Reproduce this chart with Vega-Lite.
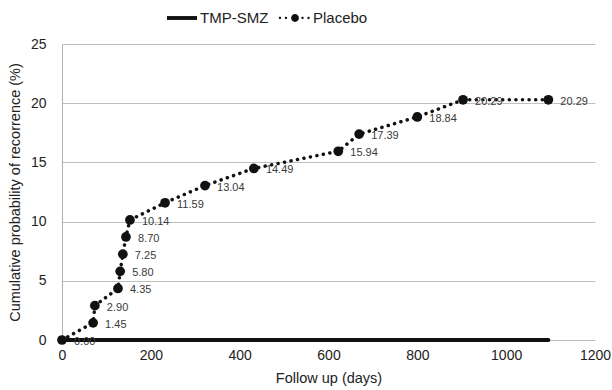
{
  "$schema": "https://vega.github.io/schema/vega-lite/v6.json",
  "width": 533,
  "height": 296,
  "autosize": {"type": "none"},
  "padding": {"left": 62, "top": 44, "right": 17, "bottom": 50},
  "background": "white",
  "config": {
    "font": "Liberation Sans",
    "view": {"stroke": null},
    "axis": {"labelFont": "Liberation Sans", "titleFont": "Liberation Sans", "labelColor": "#222", "titleColor": "#222", "titleFontWeight": "normal", "labelFontSize": 14, "titleFontSize": 14.5, "ticks": false, "labelFlush": false, "domainColor": "#b0b0b0", "gridColor": "#c0c0c0"}
  },
  "data": {
    "values": [
      {"series": "TMP-SMZ", "days": 0, "value": 0, "label": ""},
      {"series": "TMP-SMZ", "days": 1095, "value": 0, "label": ""},
      {"series": "Placebo", "days": 0, "value": 0, "label": "0.00"},
      {"series": "Placebo", "days": 70, "value": 1.45, "label": "1.45"},
      {"series": "Placebo", "days": 74, "value": 2.90, "label": "2.90"},
      {"series": "Placebo", "days": 126, "value": 4.35, "label": "4.35"},
      {"series": "Placebo", "days": 131, "value": 5.80, "label": "5.80"},
      {"series": "Placebo", "days": 137, "value": 7.25, "label": "7.25"},
      {"series": "Placebo", "days": 144, "value": 8.70, "label": "8.70"},
      {"series": "Placebo", "days": 153, "value": 10.14, "label": "10.14"},
      {"series": "Placebo", "days": 232, "value": 11.59, "label": "11.59"},
      {"series": "Placebo", "days": 322, "value": 13.04, "label": "13.04"},
      {"series": "Placebo", "days": 432, "value": 14.49, "label": "14.49"},
      {"series": "Placebo", "days": 622, "value": 15.94, "label": "15.94"},
      {"series": "Placebo", "days": 669, "value": 17.39, "label": "17.39"},
      {"series": "Placebo", "days": 800, "value": 18.84, "label": "18.84"},
      {"series": "Placebo", "days": 903, "value": 20.29, "label": "20.29"},
      {"series": "Placebo", "days": 1095, "value": 20.29, "label": "20.29"}
    ]
  },
  "encoding": {
    "x": {"field": "days", "type": "quantitative", "scale": {"domain": [0, 1200], "nice": false}, "axis": {"values": [0, 200, 400, 600, 800, 1000, 1200], "format": "d", "grid": false, "title": "Follow up (days)", "labelPadding": 8, "titlePadding": 9, "domain": false}},
    "y": {"field": "value", "type": "quantitative", "scale": {"domain": [0, 25], "nice": false}, "axis": {"values": [0, 5, 10, 15, 20, 25], "grid": true, "title": "Cumulative probability of recorrence (%)", "labelPadding": 16, "titlePadding": 8}}
  },
  "layer": [
    {
      "mark": {"type": "line", "strokeCap": "round", "color": "#111"},
      "encoding": {
        "detail": {"field": "series", "type": "nominal"},
        "strokeWidth": {"condition": {"test": "datum.series == 'TMP-SMZ'", "value": 4}, "value": 3.5},
        "strokeDash": {"condition": {"test": "datum.series == 'Placebo'", "value": [0.1, 6.5]}, "value": [1, 0]}
      }
    },
    {
      "mark": {"type": "point", "filled": true, "color": "#111", "size": 0, "opacity": 0},
      "encoding": {
        "shape": {"field": "series", "type": "nominal", "scale": {"domain": ["TMP-SMZ", "Placebo"], "range": ["M-1,-0.13H1V0.13H-1Z", "M-1.08,0a0.08,0.08 0 1,0 0.16,0a0.08,0.08 0 1,0 -0.16,0M-0.68,0a0.08,0.08 0 1,0 0.16,0a0.08,0.08 0 1,0 -0.16,0M-0.26,0a0.26,0.26 0 1,0 0.52,0a0.26,0.26 0 1,0 -0.52,0M0.42,0a0.08,0.08 0 1,0 0.16,0a0.08,0.08 0 1,0 -0.16,0M0.82,0a0.08,0.08 0 1,0 0.16,0a0.08,0.08 0 1,0 -0.16,0"]}, "legend": {"title": null, "orient": "none", "legendX": 105, "legendY": -41, "direction": "horizontal", "labelFontSize": 15, "labelColor": "#222", "symbolSize": 900, "symbolOpacity": 1, "symbolFillColor": "#111", "symbolStrokeWidth": 0, "columnPadding": 9, "labelOffset": 3}}
      }
    },
    {
      "transform": [{"filter": "datum.series == 'Placebo'"}],
      "mark": {"type": "point", "filled": true, "color": "#111", "size": 95, "opacity": 1},
      "encoding": {}
    },
    {
      "transform": [{"filter": "datum.series == 'Placebo'"}],
      "mark": {"type": "text", "align": "left", "baseline": "middle", "dx": 12, "dy": 2, "fontSize": 11, "color": "#3a3a3a"},
      "encoding": {"text": {"field": "label"}}
    }
  ]
}
